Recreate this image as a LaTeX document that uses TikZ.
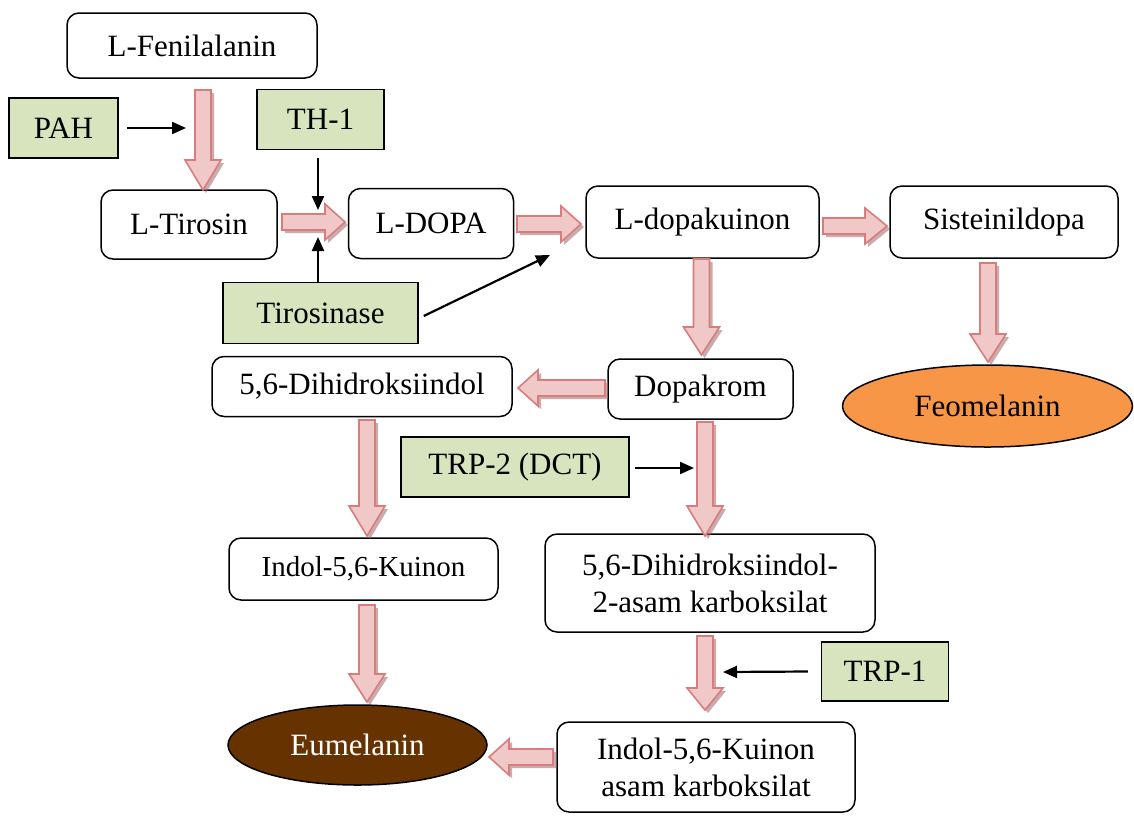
\documentclass[tikz,border=0pt]{standalone}
\usepackage{fontspec}
\setmainfont{Liberation Serif}
\usetikzlibrary{calc,shapes.geometric,arrows.meta,shadows}
\definecolor{boxgreen}{RGB}{215,228,189}
\definecolor{feocol}{RGB}{246,150,70}
\definecolor{eumcol}{RGB}{102,51,0}
\definecolor{bafill}{RGB}{241,200,200}
\definecolor{badraw}{RGB}{215,125,125}
\definecolor{bashadow}{RGB}{160,105,105}
\def\bs{8pt}\def\bH{18pt}\def\bh{28pt}
\tikzset{
  bhead/.code={\def\bh{#1}},
  proc/.style={draw, line width=1.5pt, rounded corners=12pt, fill=white, align=center, inner sep=2pt},
  enz/.style={draw, line width=1.5pt, fill=boxgreen, inner sep=2pt},
  ell/.style={draw, line width=1.5pt, ellipse, inner sep=0pt},
  thinarrow/.style={line width=2.2pt, -{Triangle[length=14pt,width=12pt]}},
  barrow/.style={fill=bafill, draw=badraw, line width=1.6pt, line join=miter,
    drop shadow={shadow xshift=3pt, shadow yshift=-3pt, fill=bashadow, opacity=0.55},
    to path={($(\tikztostart)!\bs!90:(\tikztotarget)$)
      -- ($(\tikztotarget)!\bh!(\tikztostart)!\bs!-90:(\tikztostart)$)
      -- ($(\tikztotarget)!\bh!(\tikztostart)!\bH!-90:(\tikztostart)$)
      -- (\tikztotarget)
      -- ($(\tikztotarget)!\bh!(\tikztostart)!\bH!90:(\tikztostart)$)
      -- ($(\tikztotarget)!\bh!(\tikztostart)!\bs!90:(\tikztostart)$)
      -- ($(\tikztostart)!\bs!-90:(\tikztotarget)$) -- cycle}},
}
\begin{document}
\begin{tikzpicture}[x=1pt,y=-1pt,font=\fontsize{31}{37}\selectfont]
\useasboundingbox[fill=white] (0,0) rectangle (1134,815);

% nodes
\node[proc, minimum width=250pt, minimum height=65pt] (fen) at (192,45.5) {L-Fenilalanin};
\node[enz, minimum width=109pt, minimum height=60pt] (pah) at (63.5,128) {PAH};
\node[enz, minimum width=127pt, minimum height=60pt] (th1) at (320.5,119.5) {TH-1};
\node[proc, minimum width=176pt, minimum height=69pt] (tir) at (189,224.5) {L-Tirosin};
\node[proc, minimum width=165pt, minimum height=70pt] (dopa) at (431,223.5) {L-DOPA};
\node[proc, minimum width=233pt, minimum height=72pt] (dopaq) at (702.5,222) {L-dopakuinon};
\node[proc, minimum width=228pt, minimum height=72pt] (sist) at (1004,222) {Sisteinildopa};
\node[enz, minimum width=195pt, minimum height=61pt] (tyr) at (320.5,313) {Tirosinase};
\node[proc, minimum width=300pt, minimum height=60pt] (dhi) at (362,386.5) {5,6-Dihidroksiindol};
\node[proc, minimum width=185pt, minimum height=60pt] (dopak) at (700.5,389) {Dopakrom};
\node[ell, fill=feocol, minimum width=290pt, minimum height=82pt] (feo) at (987.5,406) {Feomelanin};
\node[enz, minimum width=228pt, minimum height=60pt] (trp2) at (515,467) {TRP-2 (DCT)};
\node[proc, minimum width=269pt, minimum height=62pt, font=\fontsize{29}{35}\selectfont] (ik) at (363.5,569) {Indol-5,6-Kuinon};
\node[proc, minimum width=330pt, minimum height=98pt] (dhica) at (710,583) {5,6-Dihidroksiindol-\\2-asam karboksilat};
\node[enz, minimum width=127pt, minimum height=59pt] (trp1) at (885,671.5) {TRP-1};
\node[ell, fill=eumcol, text=white, minimum width=259pt, minimum height=80pt] (eum) at (357.5,745) {Eumelanin};
\node[proc, minimum width=298pt, minimum height=90pt] (ikca) at (706,767) {Indol-5,6-Kuinon\\asam karboksilat};

% block arrow end points
\coordinate (a1s) at (203,90);   \coordinate (a1e) at (203,190);
\coordinate (a2s) at (282,222);  \coordinate (a2e) at (345,222);
\coordinate (a3s) at (517,224);  \coordinate (a3e) at (581,224);
\coordinate (a4s) at (823,226);  \coordinate (a4e) at (887,226);
\coordinate (a5s) at (988,263);  \coordinate (a5e) at (988,362);
\coordinate (a6s) at (701.5,259);\coordinate (a6e) at (701.5,355);
\coordinate (a7s) at (605,388);  \coordinate (a7e) at (518,388);
\coordinate (a8s) at (367,420);  \coordinate (a8e) at (367,536);
\coordinate (a9s) at (705,422);  \coordinate (a9e) at (705,536);
\coordinate (a10s) at (367,605); \coordinate (a10e) at (367,702);
\coordinate (a11s) at (705,636); \coordinate (a11e) at (705,710);
\coordinate (a12s) at (553,757); \coordinate (a12e) at (489,757);

\path[barrow, bhead=30pt] (a1s) to (a1e);
\path[barrow, bhead=20pt] (a2s) to (a2e);
\path[barrow, bhead=20pt] (a3s) to (a3e);
\path[barrow, bhead=22pt] (a4s) to (a4e);
\path[barrow, bhead=28pt] (a5s) to (a5e);
\path[barrow, bhead=28pt] (a6s) to (a6e);
\path[barrow, bhead=20pt] (a7s) to (a7e);
\path[barrow, bhead=30pt] (a8s) to (a8e);
\path[barrow, bhead=30pt] (a9s) to (a9e);
\path[barrow, bhead=28pt] (a10s) to (a10e);
\path[barrow, bhead=22pt] (a11s) to (a11e);
\path[barrow, bhead=20pt] (a12s) to (a12e);

% enzyme arrows
\coordinate (pahT) at (186,128);
\coordinate (th1T) at (318,210);
\coordinate (tyrT1) at (318,237);
\coordinate (tyrT2) at (550,255);
\coordinate (trp2T) at (694,468);
\coordinate (trp1T) at (723,672);
\draw[thinarrow] ($(pah.east)+(8,0)$) -- (pahT);
\draw[thinarrow] (th1.south -| th1T) ++(0,8) -- (th1T);
\draw[thinarrow] (tyr.north -| tyrT1) -- (tyrT1);
\draw[thinarrow] ($(tyr.east)+(5,3)$) -- (tyrT2);
\draw[thinarrow] ($(trp2.east)+(5,1)$) -- (trp2T);
\draw[thinarrow] ($(trp1.west)+(-13,0)$) -- (trp1T);
\end{tikzpicture}
\end{document}
